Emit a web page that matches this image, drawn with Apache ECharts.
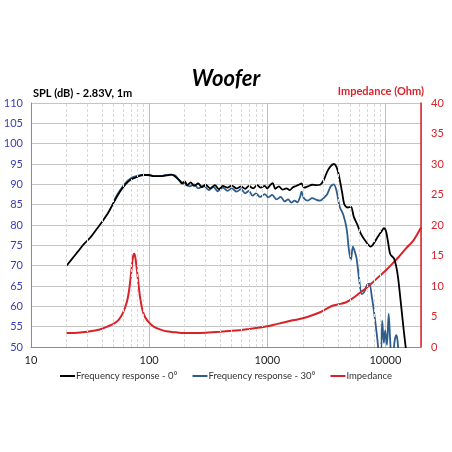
<!DOCTYPE html>
<html>
<head>
<meta charset="utf-8">
<script src="https://cdn.jsdelivr.net/npm/echarts@6/dist/echarts.min.js"></script>
<style>
html,body{margin:0;padding:0;background:#fff;}
#c{width:452px;height:452px;}
</style>
</head>
<body>
<div id="c"></div>
<script>
// ---- data ----
var freq0 = [20,22,25,28,32,36,40,45,50,56,63,70,80,90,100,110,125,140,155,165,180,190,200,210,225,240,260,280,300,330,360,390,420,460,500,550,600,650,700,760,820,880,950,1000,1050,1110,1170,1250,1350,1450,1550,1650,1750,1850,1950,2050,2200,2400,2600,2800,3000,3200,3400,3650,3850,4050,4300,4500,4800,5100,5400,5800,6200,6800,7500,8100,8700,9300,9700,10100,10500,11000,11800,12300,12800,13600,14300,14900];
var spl0 = [70,71.5,73.5,75.3,77,79,80.8,83,85.5,88,90,91.2,91.9,92.3,92.3,92.0,92.0,92.2,92.4,92.0,91.0,90.2,90.8,89.8,90.5,89.6,90.2,89.3,89.9,89.0,89.8,88.8,89.6,89.2,89.7,89.0,89.5,88.9,89.6,89.0,89.8,89.2,89.6,89.0,89.7,90.3,88.9,89.5,88.7,89.0,88.6,89.3,89.6,89.9,90.2,89.2,89.5,89.9,89.8,89.9,91.0,93.0,94.3,95.0,94.3,92.0,88.0,85.0,84.3,84.5,82.0,80.0,77.8,76.0,74.7,75.8,77.3,78.5,79.2,78.5,76.0,72.8,71.8,70.0,67.0,60.0,54.0,49.5];

var freq30 = [50,56,63,70,80,90,100,115,130,150,165,180,200,220,240,260,290,320,350,380,420,460,500,550,600,650,700,750,800,870,950,1020,1100,1200,1300,1400,1500,1600,1700,1800,1900,1950,2050,2200,2400,2600,2800,3000,3200,3450,3650,3850,4100,4400,4700,4900,5100,5300,5500,5700,6000,6300,6600,7000,7300,7700,8100,8500,8800,9100,9400,9700,9950,10300,10650,10950,11200,11600,11900,12300,12600,13000,13400];
var spl30 = [85.8,88.3,90.3,91.5,92.1,92.4,92.2,92.0,92.1,92.4,92.2,91.0,90.0,89.5,90.0,89.0,89.6,88.6,89.4,88.3,89.2,88.4,89.0,88.2,88.8,87.8,88.4,87.2,87.8,86.9,87.6,86.8,87.4,86.3,86.9,85.8,86.3,85.5,86.0,85.6,87.0,88.2,86.5,86.0,86.6,86.2,86.0,86.6,87.5,89.5,90.0,88.5,84.5,82.5,79.0,74.0,71.4,74.7,73.5,71.8,66.5,63.0,63.5,65.3,65.6,62.0,57.5,52.5,48.5,47,56.5,51,54.1,50.5,58.2,52,48,47,51,52.9,52,48,46];

var freqZ = [20,25,30,35,40,45,50,55,60,65,68,71,73,75,77,80,84,88,93,100,110,125,140,170,200,250,300,400,500,600,700,800,1000,1200,1400,1600,1800,2000,2400,2800,3200,3600,4000,4600,5200,6000,7000,8000,9000,10000,11500,13000,15000,17000,19000,20000];
var imp = [2.3,2.35,2.5,2.7,3.0,3.4,3.8,4.4,5.6,7.5,9.6,12.8,14.8,15.3,14.2,11.5,8.0,6.0,4.8,4.0,3.3,2.85,2.6,2.4,2.3,2.3,2.35,2.5,2.65,2.8,2.95,3.1,3.4,3.75,4.05,4.35,4.5,4.7,5.2,5.7,6.3,6.8,7.0,7.3,7.9,8.8,9.8,10.8,11.7,12.5,13.7,14.8,16.2,17.3,18.8,19.6];

var xTickLabels = [10,100,1000,10000];
var minorFreqs = [20,30,40,50,60,70,80,90,200,300,400,500,600,700,800,900,2000,3000,4000,5000,6000,7000,8000,9000];
var seriesNames = ['Frequency response - 0°','Frequency response - 30°','Impedance'];
var titleText = 'Woofer';
var leftTitle = 'SPL (dB) - 2.83V, 1m';
var rightTitle = 'Impedance (Ohm)';

function pairs(xs, ys){ return xs.map(function(x,i){ return [x, ys[i]]; }); }

var FONT = 'Lato, "Liberation Sans", sans-serif';
var RED = '#d8222a';
var chart = echarts.init(document.getElementById('c'), null, {renderer:'canvas'});
chart.setOption({
  animation: false,
  backgroundColor: '#fff',
  textStyle: {fontFamily: FONT},
  graphic: [
    {type:'text', left:'center', top:68, style:{text:titleText, font:'italic bold 22px ' + FONT, fill:'#000'}},
    {type:'text', left:33, top:88, style:{text:leftTitle, font:'bold 11px ' + FONT, fill:'#000'}},
    {type:'text', right:28, top:86, style:{text:rightTitle, font:'bold 11px ' + FONT, fill:RED}}
  ],
  grid: {left:31, right:31, top:103, bottom:105, containLabel:false},
  legend: {
    bottom: 66, left: 'center', icon: 'rect', itemWidth: 15, itemHeight: 2, itemGap: 15,
    textStyle: {fontSize: 9.5, color: '#333', fontFamily: FONT, padding:[0,0,0,-4]},
    data: seriesNames
  },
  xAxis: {
    type: 'log', logBase: 10, min: 10, max: 20000,
    axisLine: {show:true, lineStyle:{color:'#8c8c8c', width:1}},
    axisTick: {show:false},
    axisLabel: {
      color:'#222', fontSize: 11, margin: 8, fontFamily: FONT, showMaxLabel: false,
      formatter: function(v){ return xTickLabels.indexOf(Math.round(v)) >= 0 ? String(Math.round(v)) : ''; }
    },
    splitLine: {show:true, lineStyle:{color:'#bdbdbd', width:1}}
  },
  yAxis: [
    {
      type: 'value', min: 50, max: 110, interval: 5,
      axisLine: {show:true, lineStyle:{color:'#8c8c8c'}},
      axisTick: {show:false},
      axisLabel: {color:'#3c3cb4', fontSize: 11, margin: 8, fontFamily: FONT},
      splitLine: {show:true, lineStyle:{color:'#c4c4c4', width:1}}
    },
    {
      type: 'value', min: 0, max: 40, interval: 5, position: 'right',
      axisLine: {show:true, lineStyle:{color:RED, width:1.5}},
      axisTick: {show:false},
      axisLabel: {color:RED, fontSize: 11, margin: 10, fontFamily: FONT},
      splitLine: {show:false}
    }
  ],
  series: [
    {
      name: 'minor', type: 'line', data: [], silent: true, z: 1,
      markLine: {
        silent: true, symbol: ['none','none'], label: {show:false}, animation:false,
        lineStyle: {color:'#dadada', type:[3,2], width:1},
        data: minorFreqs.map(function(f){ return {xAxis: f}; })
      }
    },
    {
      name: seriesNames[0], type: 'line', yAxisIndex: 0, data: pairs(freq0, spl0),
      showSymbol: false, smooth: 0.3, clip: true, z: 4,
      lineStyle: {color:'#000', width:1.8}, itemStyle: {color:'#000'}
    },
    {
      name: seriesNames[1], type: 'line', yAxisIndex: 0, data: pairs(freq30, spl30),
      showSymbol: false, smooth: 0.3, clip: true, z: 3,
      lineStyle: {color:'#2d5d8c', width:1.8}, itemStyle: {color:'#2d5d8c'}
    },
    {
      name: seriesNames[2], type: 'line', yAxisIndex: 1, data: pairs(freqZ, imp),
      showSymbol: false, smooth: 0.3, clip: true, z: 3,
      lineStyle: {color:RED, width:2}, itemStyle: {color:RED}
    }
  ]
});
</script>
</body>
</html>
